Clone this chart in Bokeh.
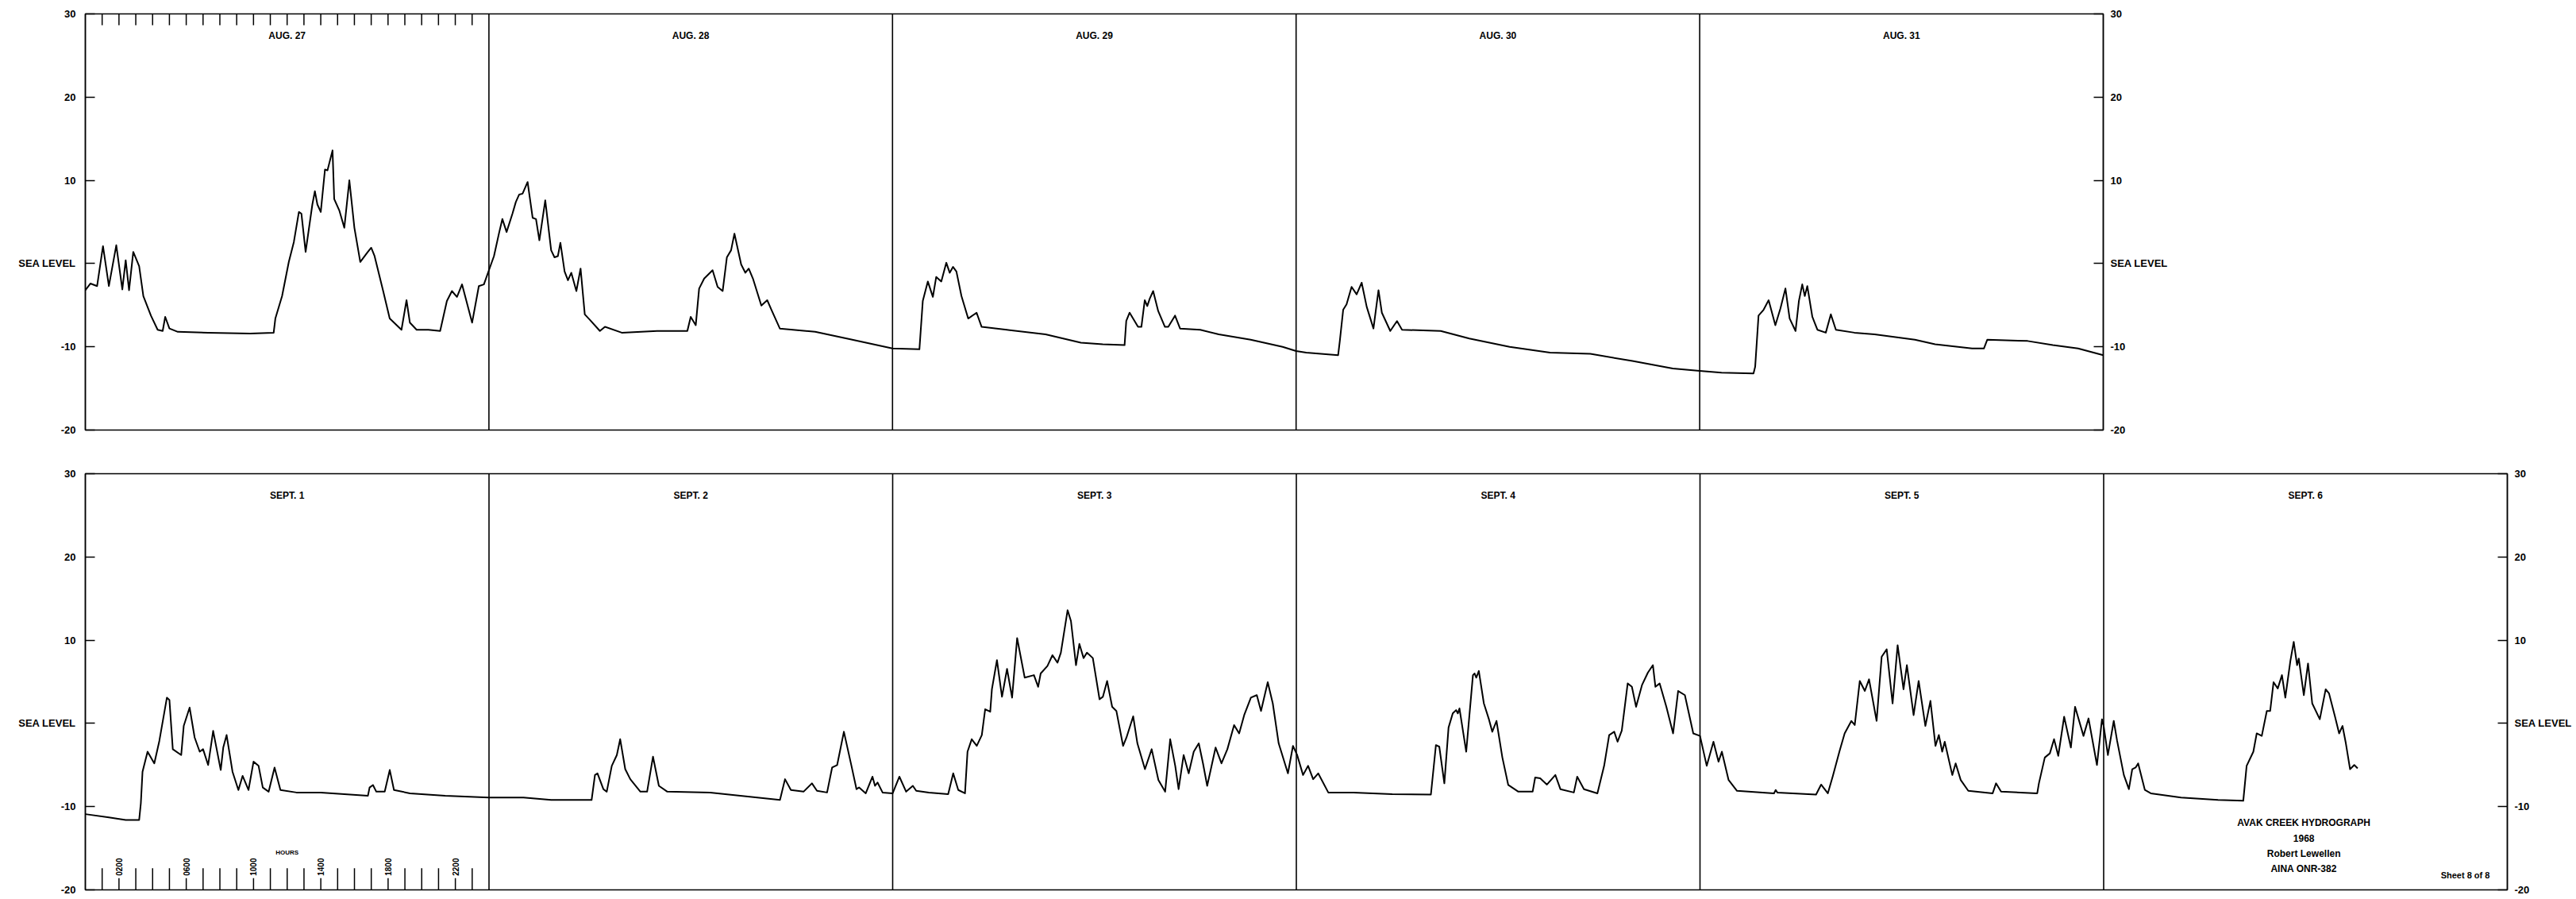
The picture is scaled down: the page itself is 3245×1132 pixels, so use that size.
import math
from bokeh.plotting import figure
from bokeh.models import Range1d, FixedTicker, LinearAxis
from bokeh.layouts import column
from bokeh.core.properties import value
from bokeh.embed import file_html
from bokeh.resources import INLINE

# ---------------- data ----------------
aug_days = ["AUG. 27", "AUG. 28", "AUG. 29", "AUG. 30", "AUG. 31"]
sep_days = ["SEPT. 1", "SEPT. 2", "SEPT. 3", "SEPT. 4", "SEPT. 5", "SEPT. 6"]

level_ticks = [-20, -10, 0, 10, 20, 30]
level_tick_labels = ["-20", "-10", "SEA LEVEL", "10", "20", "30"]

hour_ticks = list(range(1, 24))
hour_label_hours = [2, 6, 10, 14, 18, 22]
hour_labels = ["0200", "0600", "1000", "1400", "1800", "2200"]

title_lines = ["AVAK CREEK HYDROGRAPH", "1968", "Robert Lewellen", "AINA ONR-382"]
sheet_note = "Sheet 8 of 8"

# hours since 00:00 Aug 27, water level relative to sea level
aug_hours = [
    0.0, 0.3, 0.7, 1.05, 1.4, 1.84, 2.2, 2.4, 2.6, 2.85, 3.2, 3.45, 3.9, 4.3, 4.6, 4.75, 5.0, 5.5,
    7.3, 9.8, 11.2, 11.3, 11.7, 12.1, 12.4, 12.7, 12.85, 13.1, 13.5, 13.65, 13.8, 14.0, 14.25,
    14.4, 14.7, 14.8, 15.1, 15.4, 15.7, 16.0, 16.35, 16.8, 17.0, 17.2, 17.7, 18.1, 18.8, 19.1,
    19.3, 19.7, 20.4, 21.1, 21.5, 21.8, 22.1, 22.4, 23.0, 23.4, 23.7,
    24.0, 24.3, 24.6, 24.8, 25.05, 25.4, 25.6, 25.8, 26.0, 26.3, 26.6, 26.8, 27.0, 27.35, 27.7,
    27.9, 28.1, 28.25, 28.5, 28.7, 28.9, 29.2, 29.45, 29.7, 30.0, 30.6, 30.9, 31.9, 34.0, 35.8,
    36.0, 36.3, 36.5, 36.8, 37.3, 37.6, 37.9, 38.15, 38.4, 38.6, 39.0, 39.25, 39.45, 39.7, 40.2,
    40.55, 40.8, 41.3, 43.4, 45.5,
    48.0, 49.6, 49.8, 50.1, 50.4, 50.6, 50.9, 51.2, 51.4, 51.6, 51.8, 52.1, 52.5, 53.0, 53.3,
    54.8, 57.1, 59.2, 60.5, 61.8, 61.9, 62.1, 62.6, 62.8, 63.0, 63.15, 63.3, 63.5, 63.8, 64.2,
    64.4, 64.8, 65.1, 66.3, 67.4, 69.3, 71.2,
    72.0, 72.6, 74.5, 74.6, 74.8, 75.0, 75.3, 75.6, 75.9, 76.2, 76.6, 76.9, 77.1, 77.6, 78.0,
    78.3, 80.6, 82.3, 84.7, 87.1, 89.5, 92.0, 94.4,
    96.0, 97.3, 99.2, 99.3, 99.5, 99.8, 100.1, 100.5, 100.8, 101.1, 101.35, 101.7, 101.9, 102.1,
    102.25, 102.4, 102.7, 103.0, 103.5, 103.8, 104.1, 105.2, 106.4, 108.8, 110.0, 112.2, 112.9,
    113.1, 115.5, 117.0, 118.5, 120.0,
]
aug_level = [
    -3.2, -2.4, -2.7, 2.1, -2.7, 2.2, -3.1, 0.4, -3.2, 1.4, -0.3, -3.9, -6.25, -7.95, -8.1, -6.4, -7.8, -8.2,
    -8.3, -8.4, -8.3, -6.6, -3.9, 0.2, 2.6, 6.2, 6.0, 1.4, 7.1, 8.7, 7.1, 6.2, 11.3,
    11.2, 13.6, 7.75, 6.4, 4.3, 10.0, 4.3, 0.2, 1.4, 1.9, 0.9, -3.2, -6.6, -7.95, -4.4,
    -7.1, -7.95, -7.95, -8.1, -4.5, -3.3, -4.0, -2.5, -7.1, -2.7, -2.5,
    -0.8, 0.9, 3.65, 5.35, 3.8, 6.0, 7.4, 8.3, 8.4, 9.8, 5.5, 5.35, 2.8, 7.6, 1.6,
    0.75, 0.9, 2.5, -0.95, -2.0, -1.1, -3.3, -0.6, -6.1, -6.75, -8.1, -7.6, -8.3, -8.1, -8.1,
    -6.4, -7.4, -3.0, -1.8, -0.8, -2.8, -3.3, 0.75, 1.6, 3.6, -0.1, -1.1, -0.6, -1.8, -5.05,
    -4.4, -5.55, -7.8, -8.2, -9.1,
    -10.2, -10.3, -4.5, -2.15, -4.0, -1.6, -2.15, 0.1, -1.1, -0.4, -0.95, -3.9, -6.6, -5.9, -7.6,
    -7.95, -8.5, -9.5, -9.7, -9.8, -6.9, -5.9, -7.6, -7.6, -4.4, -5.1, -4.2, -3.3, -5.7, -7.6,
    -7.6, -6.25, -7.8, -7.95, -8.5, -9.15, -10.0,
    -10.5, -10.7, -11.0, -9.3, -5.55, -4.9, -2.8, -3.7, -2.3, -5.2, -7.8, -3.2, -5.9, -8.1, -6.9,
    -7.95, -8.1, -9.0, -10.0, -10.7, -10.85, -11.7, -12.6,
    -12.9, -13.1, -13.2, -12.4, -6.25, -5.55, -4.4, -7.4, -5.4, -3.0, -6.6, -8.1, -4.5, -2.5,
    -3.9, -2.7, -6.4, -7.95, -8.3, -6.1, -7.95, -8.3, -8.5, -9.15, -9.7, -10.2, -10.2,
    -9.15, -9.3, -9.8, -10.2, -11.0,
]

# hours since 00:00 Sept 1
sep_hours = [
    0.0, 1.4, 2.4, 3.2, 3.3, 3.4, 3.7, 4.1, 4.4, 4.85, 5.0, 5.2, 5.7, 5.85, 6.2, 6.5, 6.8, 7.0,
    7.3, 7.6, 8.05, 8.2, 8.4, 8.75, 9.1, 9.35, 9.7, 10.0, 10.3, 10.55, 10.9, 11.25, 11.6, 12.55,
    14.0, 16.8, 16.9, 17.1, 17.3, 17.8, 18.1, 18.35, 19.3, 21.4,
    24.0, 26.05, 27.7, 30.1, 30.3, 30.45, 30.8, 31.0, 31.3, 31.6, 31.8, 32.1, 32.4, 33.0, 33.4,
    33.75, 34.1, 34.6, 37.15, 41.3, 41.6, 41.95, 42.7, 43.2, 43.5, 44.1, 44.4, 44.7, 45.1, 45.55,
    45.85, 46.0, 46.4, 46.8, 46.95, 47.1, 47.4,
    48.0, 48.4, 48.8, 49.2, 49.4, 50.15, 51.3, 51.6, 51.9, 52.3, 52.45, 52.7, 53.0, 53.3, 53.5,
    53.8, 53.9, 54.2, 54.5, 54.8, 55.1, 55.4, 55.85, 56.4, 56.65, 56.8, 57.2, 57.5, 57.8, 58.0,
    58.4, 58.6, 58.9, 59.1, 59.35, 59.55, 59.9, 60.3, 60.5, 60.75, 61.05, 61.3, 61.7, 61.9, 62.3,
    62.55, 63.0, 63.4, 63.8, 64.2, 64.5, 64.8, 65.0, 65.3, 65.6, 65.9, 66.2, 66.45, 66.7, 67.2,
    67.55, 67.9, 68.3, 68.6, 68.9, 69.3, 69.65, 69.9, 70.3, 70.6, 70.95, 71.5, 71.8,
    72.05, 72.4, 72.7, 73.0, 73.3, 73.9, 75.4, 77.7, 80.0, 80.3, 80.5, 80.8, 81.05, 81.3, 81.5,
    81.6, 81.7, 82.1, 82.5, 82.6, 82.7, 82.85, 83.15, 83.45, 83.65, 83.9, 84.25, 84.6, 85.2, 86.05,
    86.2, 86.5, 86.9, 87.4, 87.7, 88.5, 88.7, 89.1, 89.9, 90.3, 90.6, 90.9, 91.1, 91.35, 91.7,
    91.95, 92.2, 92.55, 92.9, 93.2, 93.35, 93.6, 94.0, 94.4, 94.7, 95.1, 95.6,
    96.0, 96.4, 96.8, 97.1, 97.3, 97.7, 98.2, 100.4, 100.5, 100.6, 102.9, 103.2, 103.6, 103.9,
    104.3, 104.6, 105.0, 105.2, 105.5, 105.8, 106.05, 106.5, 106.8, 107.1, 107.45, 107.75, 108.1,
    108.3, 108.7, 109.0, 109.4, 109.7, 110.0, 110.2, 110.4, 110.55, 111.0, 111.2, 111.5, 111.95,
    113.4, 113.6, 113.9, 116.05, 116.15, 116.5, 116.8, 117.05, 117.3, 117.65, 118.05, 118.3,
    118.8, 119.1, 119.6, 119.9,
    120.0, 120.25, 120.6, 120.8, 121.2, 121.5, 121.7, 121.9, 122.05, 122.45, 122.8, 124.6, 126.8,
    128.3, 128.5, 128.9, 129.1, 129.4, 129.7, 129.9, 130.1, 130.35, 130.6, 130.8, 131.1, 131.3,
    131.5, 131.6, 131.9, 132.15, 132.4, 132.85, 133.2, 133.4, 133.75, 134.0, 134.2, 134.4,
    134.65, 134.9, 135.1,
]
sep_level = [
    -10.9, -11.3, -11.6, -11.6, -9.6, -5.8, -3.4, -4.8, -2.1, 3.1, 2.8, -3.1, -3.8, -0.3, 1.9, -1.7, -3.4, -3.1,
    -5.0, -0.9, -5.6, -2.9, -1.4, -5.8, -8.0, -6.3, -8.0, -4.6, -5.1, -7.7, -8.2, -5.3, -8.0, -8.3,
    -8.3, -8.7, -7.7, -7.4, -8.2, -8.2, -5.6, -8.0, -8.4, -8.7,
    -8.9, -8.9, -9.2, -9.2, -6.2, -6.0, -7.9, -8.2, -5.1, -3.8, -1.9, -5.5, -6.7, -8.2, -8.2,
    -4.0, -7.5, -8.2, -8.3, -9.2, -6.7, -8.0, -8.2, -7.2, -8.1, -8.3, -5.3, -5.0, -1.0, -5.1,
    -7.9, -7.7, -8.4, -6.4, -7.5, -7.1, -8.3,
    -8.4, -6.4, -8.2, -7.5, -8.1, -8.3, -8.5, -6.0, -8.0, -8.4, -3.4, -1.9, -2.7, -1.4, 1.7,
    1.4, 4.1, 7.6, 3.2, 6.55, 3.1, 10.25, 5.5, 5.8, 4.4, 6.0, 6.9, 8.2, 7.3, 8.5,
    13.6, 12.3, 7.0, 9.55, 7.85, 8.5, 7.85, 2.9, 3.2, 5.1, 2.0, 1.5, -2.7, -1.7, 0.85,
    -2.4, -5.5, -3.1, -6.8, -8.2, -1.9, -5.1, -7.9, -3.8, -6.0, -3.4, -2.4, -4.8, -7.5, -2.9,
    -4.8, -3.1, -0.2, -1.2, 1.0, 3.1, 3.4, 1.5, 4.95, 2.4, -2.4, -6.0, -2.7,
    -3.8, -6.2, -5.1, -6.7, -6.0, -8.3, -8.3, -8.5, -8.55, -2.6, -2.8, -7.2, -0.5, 1.2, 1.6,
    1.2, 1.8, -3.4, 5.8, 6.0, 5.5, 6.3, 2.4, 0.5, -1.0, 0.3, -4.1, -7.4, -8.2, -8.2,
    -6.5, -6.6, -7.35, -6.2, -7.9, -8.3, -6.4, -7.9, -8.4, -5.1, -1.4, -1.0, -2.2, -0.85, 4.8,
    4.4, 2.0, 4.6, 6.1, 7.0, 4.4, 4.8, 2.0, -1.2, 3.9, 3.4, -1.2,
    -1.5, -5.1, -2.2, -4.6, -3.4, -6.8, -8.1, -8.4, -8.0, -8.3, -8.55, -7.35, -8.4, -6.3,
    -3.3, -1.2, 0.3, -0.2, 5.1, 3.9, 5.3, 0.3, 8.0, 8.9, 2.4, 9.4, 4.1,
    7.0, 1.0, 5.1, -0.3, 2.7, -2.7, -1.4, -3.4, -2.2, -6.2, -4.8, -6.8, -8.1,
    -8.4, -7.2, -8.2, -8.4, -7.2, -4.1, -3.6, -1.9, -3.9, 0.8, -2.9, 2.0,
    -1.5, 0.6, -5.0, 0.5,
    -0.3, -3.8, 0.3, -2.1, -6.2, -7.9, -5.5, -5.3, -4.8, -8.0, -8.4, -8.9, -9.2,
    -9.3, -5.1, -3.4, -1.2, -1.5, 1.5, 1.5, 4.95, 4.2, 5.8, 3.1, 7.5, 9.8,
    7.0, 7.8, 3.4, 7.2, 2.4, 0.5, 4.1, 3.6, 0.85, -1.2, -0.3, -2.4,
    -5.5, -5.0, -5.4,
]

# ---------------- styling helpers ----------------
FONT = value("Liberation Sans")
DAY_W = 3051 / 6.0
FRAME_H = 524


def style_axis(ax, standoff):
    ax.ticker = FixedTicker(ticks=level_ticks)
    ax.major_label_overrides = {t: s for t, s in zip(level_ticks, level_tick_labels)}
    ax.minor_tick_line_color = None
    ax.major_tick_in = 12
    ax.major_tick_out = 0
    ax.major_tick_line_width = 1.5
    ax.major_tick_line_color = "black"
    ax.axis_line_width = 1.5
    ax.axis_line_color = "black"
    ax.major_label_standoff = standoff
    ax.major_label_text_font = "Liberation Sans"
    ax.major_label_text_font_style = "bold"
    ax.major_label_text_font_size = "13px"
    ax.major_label_text_color = "black"


def make_panel(days, hours, level, border_top, border_bottom):
    n = len(days)
    p = figure(
        frame_width=int(round(DAY_W * n)), frame_height=FRAME_H,
        x_range=Range1d(0, 24 * n), y_range=Range1d(-20, 30),
        x_axis_location=None, y_axis_location="left",
        output_backend="svg", toolbar_location=None,
        min_border_left=107, min_border_right=10,
        min_border_top=border_top, min_border_bottom=border_bottom,
        background_fill_color="white", border_fill_color="white",
    )
    p.grid.visible = False
    p.outline_line_color = "black"
    p.outline_line_width = 1.5
    style_axis(p.yaxis[0], 12)
    right = LinearAxis()
    style_axis(right, 9)
    p.add_layout(right, "right")

    bounds = [24 * i for i in range(1, n)]
    p.segment(x0=bounds, y0=[-20] * len(bounds), x1=bounds, y1=[30] * len(bounds),
              line_color="black", line_width=1.6)

    p.text(x=[24 * i + 12 for i in range(n)], y=[27.35] * n, text=days,
           text_font=FONT, text_font_style="bold", text_font_size="12px",
           text_align="center", text_baseline="middle", text_color="black")

    p.line(hours, level, line_color="black", line_width=2.0, line_join="round")
    return p


top = make_panel(aug_days, aug_hours, aug_level, 17, 24)
# hourly ticks hanging from the top edge of the first day
top.segment(x0=hour_ticks, y0=[30] * len(hour_ticks), x1=hour_ticks,
            y1=[28.65] * len(hour_ticks), line_color="black", line_width=1.5)

bottom = make_panel(sep_days, sep_hours, sep_level, 31, 10)
plain = [h for h in hour_ticks if h not in hour_label_hours]
bottom.segment(x0=plain, y0=[-20] * len(plain), x1=plain, y1=[-17.4] * len(plain),
               line_color="black", line_width=1.5)
bottom.segment(x0=hour_label_hours, y0=[-20] * len(hour_label_hours), x1=hour_label_hours,
               y1=[-18.6] * len(hour_label_hours), line_color="black", line_width=1.5)
bottom.text(x=hour_label_hours, y=[-17.25] * len(hour_label_hours), text=hour_labels,
            angle=math.pi / 2, text_font=FONT, text_font_style="bold", text_font_size="10px",
            text_align="center", text_baseline="middle", text_color="black")
bottom.text(x=[12], y=[-15.5], text=["HOURS"], text_font=FONT, text_font_style="bold",
            text_font_size="8px", text_align="center", text_baseline="middle", text_color="black")

bottom.text(x=[131.9] * len(title_lines), y=[-11.9, -13.8, -15.65, -17.45], text=title_lines,
            text_font=FONT, text_font_style="bold", text_font_size="12px",
            text_align="center", text_baseline="middle", text_color="black")
bottom.text(x=[141.5], y=[-18.25], text=[sheet_note], text_font=FONT, text_font_style="bold",
            text_font_size="11px", text_align="center", text_baseline="middle", text_color="black")

layout = column(top, bottom, spacing=0)
open("out.html", "w").write(file_html(layout, INLINE))
